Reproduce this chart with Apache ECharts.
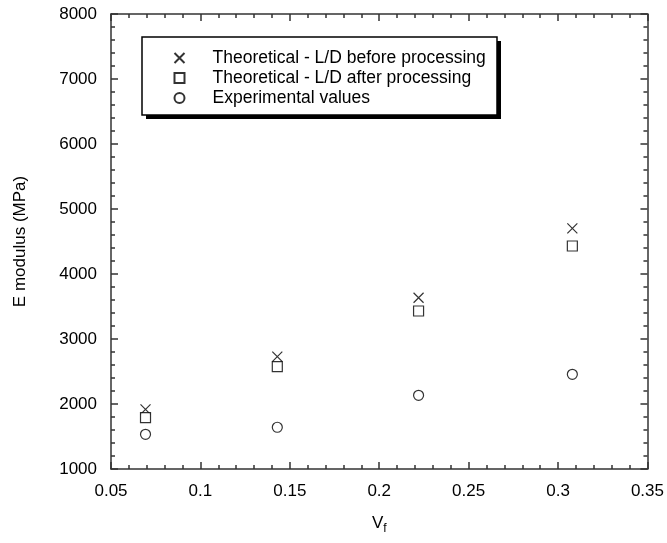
<!DOCTYPE html>
<html>
<head>
<meta charset="utf-8">
<script src="https://cdn.jsdelivr.net/npm/echarts@6/dist/echarts.min.js"></script>
<style>html,body{margin:0;padding:0;background:#fff}#c{width:667px;height:543px}</style>
</head>
<body>
<div id="c"></div>
<script>
const vf = [0.0693, 0.143, 0.222, 0.308];
const theoBefore = [1918, 2728, 3635, 4703];
const theoAfter = [1789, 2574, 3431, 4431];
const experimental = [1534, 1642, 2134, 2457];
const seriesNames = ['Theoretical - L/D before processing', 'Theoretical - L/D after processing', 'Experimental values'];

const font = 'Liberation Sans, Arial, sans-serif';
const axCol = '#333';
const pair = (xs, ys) => xs.map((x, i) => [x, ys[i]]);

function mkX(extra) {
  return Object.assign({
    type: 'value', min: 0.05, max: 0.35, interval: 0.05,
    axisLine: {show: true, onZero: false, lineStyle: {color: axCol, width: 1.5}},
    axisTick: {show: true, inside: true, length: 7, lineStyle: {color: axCol, width: 1.5}},
    minorTick: {show: true, splitNumber: 5, length: 4, lineStyle: {color: axCol, width: 1.5}},
    splitLine: {show: false}, minorSplitLine: {show: false}
  }, extra);
}
function mkY(extra) {
  return Object.assign({
    type: 'value', min: 1000, max: 8000, interval: 1000,
    axisLine: {show: true, onZero: false, lineStyle: {color: axCol, width: 1.5}},
    axisTick: {show: true, inside: true, length: 7, lineStyle: {color: axCol, width: 1.5}},
    minorTick: {show: true, splitNumber: 5, length: 4, lineStyle: {color: axCol, width: 1.5}},
    splitLine: {show: false}, minorSplitLine: {show: false}
  }, extra);
}

const chart = echarts.init(document.getElementById('c'));
chart.setOption({
  animation: false,
  textStyle: {fontFamily: font},
  grid: {left: 111, right: 18, top: 14, bottom: 74},
  xAxis: [
    mkX({
      position: 'bottom',
      axisLabel: {show: true, fontSize: 17, color: '#000', margin: 14, fontFamily: font},
      name: '{a|V}{b|f}', nameLocation: 'middle', nameGap: 42,
      nameTextStyle: {rich: {a: {fontSize: 17, color: '#000', fontFamily: font}, b: {fontSize: 12, color: '#000', fontFamily: font, padding: [12, 0, 0, 0]}}}
    }),
    mkX({position: 'top', axisLabel: {show: false}})
  ],
  yAxis: [
    mkY({
      position: 'left',
      axisLabel: {show: true, fontSize: 17, color: '#000', margin: 14, fontFamily: font, formatter: v => String(v)},
      name: 'E modulus (MPa)', nameLocation: 'middle', nameGap: 82,
      nameTextStyle: {fontSize: 17, color: '#000', fontFamily: font}
    }),
    mkY({position: 'right', axisLabel: {show: false}})
  ],
  graphic: [
    {type: 'rect', z: 1, silent: true, shape: {x: 146, y: 41, width: 355, height: 78}, style: {fill: '#000'}},
    {type: 'rect', z: 2, silent: true, shape: {x: 142, y: 37, width: 355, height: 78}, style: {fill: '#fff', stroke: '#000', lineWidth: 1.5}}
  ],
  legend: {
    z: 10,
    orient: 'vertical', left: 142, top: 37,
    padding: [12, 18, 8, 30], itemGap: 2, itemWidth: 10, itemHeight: 10,
    textStyle: {fontSize: 17.5, color: '#000', fontFamily: font, padding: [0, 0, 0, 23]},
    data: seriesNames
  },
  series: [
    {
      name: seriesNames[0], type: 'scatter', data: pair(vf, theoBefore),
      symbol: 'path://M0,0L10,10M10,0L0,10', symbolSize: 10,
      itemStyle: {color: 'none', borderColor: '#000', borderWidth: 1.2}
    },
    {
      name: seriesNames[1], type: 'scatter', data: pair(vf, theoAfter),
      symbol: 'rect', symbolSize: 10,
      itemStyle: {color: '#fff', borderColor: '#000', borderWidth: 1.2}
    },
    {
      name: seriesNames[2], type: 'scatter', data: pair(vf, experimental),
      symbol: 'circle', symbolSize: 10,
      itemStyle: {color: '#fff', borderColor: '#000', borderWidth: 1.2}
    },
    {
      name: 'frame', type: 'scatter', xAxisIndex: 1, yAxisIndex: 1, data: [],
      silent: true
    }
  ]
});
</script>
</body>
</html>
